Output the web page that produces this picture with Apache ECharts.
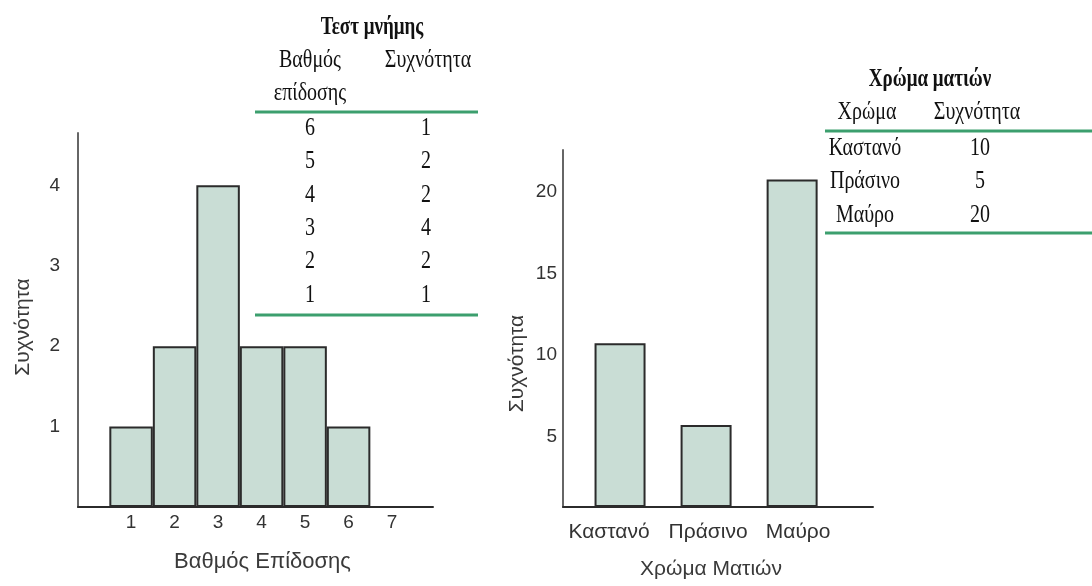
<!DOCTYPE html>
<html>
<head>
<meta charset="utf-8">
<script src="https://cdn.jsdelivr.net/npm/echarts@6/dist/echarts.min.js"></script>
<style>html,body{margin:0;padding:0;background:#fff;}#c{width:1092px;height:586px;}</style>
</head>
<body>
<div id="c"></div>
<script>
// Left chart: memory test scores
const scores = [1, 2, 3, 4, 5, 6];
const scoreFreq = [1, 2, 4, 2, 2, 1];
const scoreTicks = [1, 2, 3, 4, 5, 6, 7];
const scoreYTicks = [1, 2, 3, 4];
// Right chart: eye colour
const eyeColors = ['Καστανό', 'Πράσινο', 'Μαύρο'];
const eyeFreq = [10, 5, 20];
const eyeYTicks = [5, 10, 15, 20];

const leftTitle = 'Τεστ μνήμης';
const leftHead = ['Βαθμός', 'επίδοσης', 'Συχνότητα'];
const rightTitle = 'Χρώμα ματιών';
const rightHead = ['Χρώμα', 'Συχνότητα'];

const chart = echarts.init(document.getElementById('c'));
const sans = 'Liberation Sans, Arial, sans-serif';
const serif = 'Liberation Serif, Times New Roman, serif';
const GREEN = '#3c9f6e';
const barStyle = {color: '#c9ddd5', borderColor: '#2b2b2b', borderWidth: 2};

function tText(x, y, text, bold, size) {
  return {type: 'text', x: x, y: y, scaleY: 1.3, z: 10,
    style: {text: text, font: (bold ? 'bold ' : '') + (size || 20) + 'px ' + serif,
      fill: '#111', align: 'center', verticalAlign: 'middle'}};
}
function tLine(x1, x2, y) {
  return {type: 'line', z: 10, shape: {x1: x1, y1: y, x2: x2, y2: y},
    style: {stroke: GREEN, lineWidth: 3}};
}

const graphics = [];
// left table
graphics.push(tText(372, 28, leftTitle, true, 19));
graphics.push(tText(310, 60, leftHead[0]));
graphics.push(tText(310, 93, leftHead[1]));
graphics.push(tText(428, 60, leftHead[2]));
graphics.push(tLine(255, 478, 112));
const revScores = scores.slice().reverse();
const revFreq = scoreFreq.slice().reverse();
revScores.forEach((s, i) => {
  graphics.push(tText(310, 128 + i * 33.4, String(s)));
  graphics.push(tText(426, 128 + i * 33.4, String(revFreq[i])));
});
graphics.push(tLine(255, 478, 315));
// right table
graphics.push(tText(930, 80, rightTitle, true, 19));
graphics.push(tText(867, 112, rightHead[0]));
graphics.push(tText(977, 112, rightHead[1]));
graphics.push(tLine(825, 1092, 131));
eyeColors.forEach((c, i) => {
  graphics.push(tText(865, 148 + i * 33.5, c));
  graphics.push(tText(980, 148 + i * 33.5, String(eyeFreq[i])));
});
graphics.push(tLine(825, 1092, 233));

const axisLabelStyle = {color: '#333', fontFamily: sans};
const catRich = {
  a: {fontSize: 21, color: '#333', fontFamily: sans, padding: [0, 22, 0, 0]},
  b: {fontSize: 21, color: '#333', fontFamily: sans, padding: [0, 0, 0, 4]},
  c: {fontSize: 21, color: '#333', fontFamily: sans, padding: [0, 0, 0, 12]}
};

chart.setOption({
  animation: false,
  backgroundColor: '#fff',
  grid: [
    {left: 78, top: 133, width: 355, height: 374},
    {left: 563, top: 150, width: 310, height: 357}
  ],
  xAxis: [
    {gridIndex: 0, type: 'value', min: -0.22, max: 7.94,
      axisLine: {onZero: false, lineStyle: {color: '#2b2b2b', width: 2}},
      axisTick: {show: false}, splitLine: {show: false},
      axisLabel: Object.assign({customValues: scoreTicks, fontSize: 19, margin: 6}, axisLabelStyle),
      name: 'Βαθμός Επίδοσης', nameLocation: 'middle', nameGap: 44,
      nameTextStyle: {fontSize: 22, color: '#3a3a3a', fontFamily: sans, padding: [0, 0, 0, 14]}},
    {gridIndex: 1, type: 'value', min: 0.337, max: 3.94,
      axisLine: {onZero: false, lineStyle: {color: '#2b2b2b', width: 2}},
      axisTick: {show: false}, splitLine: {show: false},
      axisLabel: Object.assign({customValues: eyeColors.map((c, i) => i + 1), fontSize: 21, margin: 15,
        rich: catRich,
        formatter: v => {
          const i = Math.round(v) - 1;
          return eyeColors[i] ? '{' + 'abc'[i] + '|' + eyeColors[i] + '}' : '';
        }}, axisLabelStyle),
      name: 'Χρώμα Ματιών', nameLocation: 'middle', nameGap: 52,
      nameTextStyle: {fontSize: 21, color: '#3a3a3a', fontFamily: sans, padding: [0, 14, 0, 0]}}
  ],
  yAxis: [
    {gridIndex: 0, type: 'value', min: 0, max: 4.65,
      axisLine: {show: true, onZero: false, lineStyle: {color: '#666', width: 2}},
      axisTick: {show: false}, splitLine: {show: false},
      axisLabel: Object.assign({customValues: scoreYTicks, fontSize: 19, margin: 18}, axisLabelStyle),
      name: 'Συχνότητα', nameLocation: 'middle', nameRotate: 90, nameGap: 44,
      nameTextStyle: {fontSize: 21, color: '#3a3a3a', fontFamily: sans, padding: [0, 14, 0, 0]}},
    {gridIndex: 1, type: 'value', min: 0, max: 21.8,
      axisLine: {show: true, onZero: false, lineStyle: {color: '#666', width: 2}},
      axisTick: {show: false}, splitLine: {show: false},
      axisLabel: Object.assign({customValues: eyeYTicks, fontSize: 19, margin: 6,
        rich: {p: {fontSize: 19, color: '#333', fontFamily: sans, padding: [24, 0, 0, 0]}},
        formatter: v => '{p|' + v + '}'}, axisLabelStyle),
      name: 'Συχνότητα', nameLocation: 'middle', nameRotate: 90, nameGap: 35,
      nameTextStyle: {fontSize: 21, color: '#3a3a3a', fontFamily: sans, padding: [0, 70, 0, 0]}}
  ],
  series: [
    {type: 'bar', xAxisIndex: 0, yAxisIndex: 0, barWidth: 43.5,
      data: scores.map((s, i) => [s, scoreFreq[i]]), itemStyle: barStyle},
    {type: 'bar', xAxisIndex: 1, yAxisIndex: 1, barWidth: 51,
      data: eyeColors.map((c, i) => [i + 1, eyeFreq[i]]), itemStyle: barStyle}
  ],
  graphic: graphics
});
</script>
</body>
</html>
